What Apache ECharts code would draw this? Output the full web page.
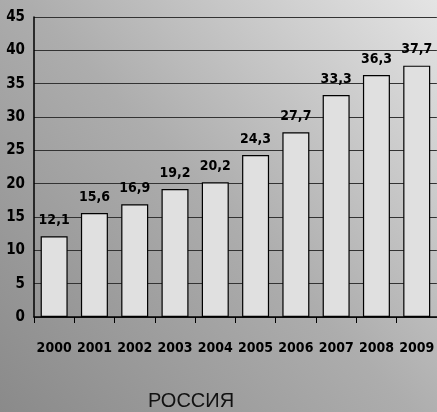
<!DOCTYPE html>
<html>
<head>
<meta charset="utf-8">
<script src="https://cdn.jsdelivr.net/npm/echarts@6/dist/echarts.min.js"></script>
<style>html,body{margin:0;padding:0;}#c{width:437px;height:412px;}</style>
</head>
<body>
<div id="c"></div>
<script>
var categories = ['2000','2001','2002','2003','2004','2005','2006','2007','2008','2009'];
var values = [12.1, 15.6, 16.9, 19.2, 20.2, 24.3, 27.7, 33.3, 36.3, 37.7];
var yTicks = [0, 5, 10, 15, 20, 25, 30, 35, 40, 45];
var title = 'РОССИЯ';

var narrow = '"Liberation Sans Narrow","DejaVu Sans Condensed",sans-serif';
var chart = echarts.init(document.getElementById('c'));
chart.setOption({
  animation: false,
  graphic: [{
    type: 'rect', z: -100, silent: true,
    shape: {x: 0, y: 0, width: 437, height: 412},
    style: {fill: new echarts.graphic.LinearGradient(0, 1, 1, 0, [
      {offset: 0, color: '#8a8a8a'},
      {offset: 0.5, color: '#adadad'},
      {offset: 1, color: '#e4e4e4'}
    ])}
  }],
  title: {
    text: title, left: 191, textAlign: 'center', top: 391, padding: 0,
    textStyle: {fontFamily: 'Liberation Sans, Arial, sans-serif', fontWeight: 'normal', fontSize: 20, color: '#111'}
  },
  grid: {left: 34, top: 17, width: 408, bottom: 95},
  xAxis: {
    type: 'category', data: categories,
    axisLine: {lineStyle: {color: '#000', width: 1.5}},
    axisTick: {show: true, length: 6, lineStyle: {color: '#000'}},
    axisLabel: {interval: 0, margin: 24, fontFamily: narrow, fontWeight: 'bold', fontSize: 14, color: '#000'}
  },
  yAxis: {
    type: 'value', min: yTicks[0], max: yTicks[yTicks.length - 1], interval: 5,
    axisLine: {show: true, lineStyle: {color: '#000', width: 1.5}},
    axisTick: {show: false},
    splitLine: {lineStyle: {color: '#333', width: 1.2}},
    axisLabel: {margin: 9, fontFamily: narrow, fontWeight: 'bold', fontSize: 15, color: '#000'}
  },
  series: [{
    type: 'bar', data: values, barWidth: '67%',
    itemStyle: {color: '#e0e0e0', borderColor: '#000', borderWidth: 1.2},
    label: {
      show: true, position: 'top', distance: 9,
      fontFamily: narrow, fontWeight: 'bold', fontSize: 14, color: '#000',
      formatter: function (p) { return String(p.value).replace('.', ','); }
    }
  }]
});
</script>
</body>
</html>
